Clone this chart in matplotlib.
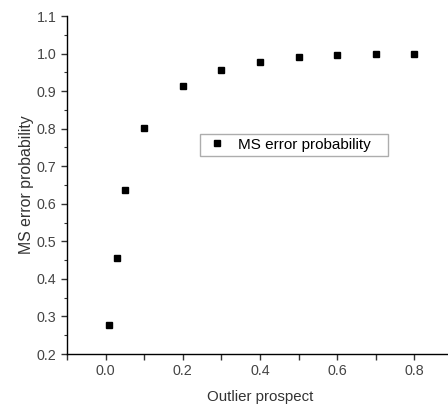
import matplotlib.pyplot as plt
from matplotlib.ticker import MultipleLocator

plt.rcParams['font.family'] = ['Liberation Sans', 'DejaVu Sans']

# outlier prospect vs MS error probability
outlier = [0.01, 0.03, 0.05, 0.1, 0.2, 0.3, 0.4, 0.5, 0.6, 0.7, 0.8]
ms_err = [0.278, 0.455, 0.636, 0.803, 0.914, 0.955, 0.977, 0.990, 0.996, 0.999, 1.000]

fig = plt.figure(figsize=(4.48, 4.04), dpi=100)
ax = fig.add_axes([67 / 448, 50 / 404, 386 / 448, 338 / 404])

ax.plot(outlier, ms_err, 's', color='black', ms=4.5, label='MS error probability   ')

ax.set_xlim(-0.1, 0.9)
ax.set_ylim(0.2, 1.1)
ax.xaxis.set_major_locator(MultipleLocator(0.2))
ax.xaxis.set_minor_locator(MultipleLocator(0.1))
ax.yaxis.set_major_locator(MultipleLocator(0.1))
ax.yaxis.set_minor_locator(MultipleLocator(0.05))
ax.xaxis.set_major_formatter(plt.FormatStrFormatter('%.1f'))
ax.yaxis.set_major_formatter(plt.FormatStrFormatter('%.1f'))

for s in ['top', 'right']:
    ax.spines[s].set_visible(False)
for s in ['left', 'bottom']:
    ax.spines[s].set_linewidth(1.0)

ax.tick_params(which='major', direction='out', length=4, width=1, labelsize=10.3,
               colors='#333333', labelcolor='#444444')
ax.tick_params(which='minor', direction='out', length=2.5, width=0.8, colors='#333333')
ax.tick_params(axis='x', which='minor', length=4, width=1)

ax.set_xlabel('Outlier prospect', fontsize=10.8, color='#333333', labelpad=8)
ax.set_ylabel('MS error probability', fontsize=11.4, color='#333333', labelpad=2)

leg = ax.legend(loc='upper left', bbox_to_anchor=(200 / 448, 1 - 134 / 404),
                bbox_transform=fig.transFigure, borderaxespad=0, fancybox=False,
                edgecolor='#999999', fontsize=11, handletextpad=0.5,
                borderpad=0.25, handlelength=1.75, numpoints=1)
leg.get_frame().set_linewidth(1.0)

fig.savefig('out.png', dpi=100)
